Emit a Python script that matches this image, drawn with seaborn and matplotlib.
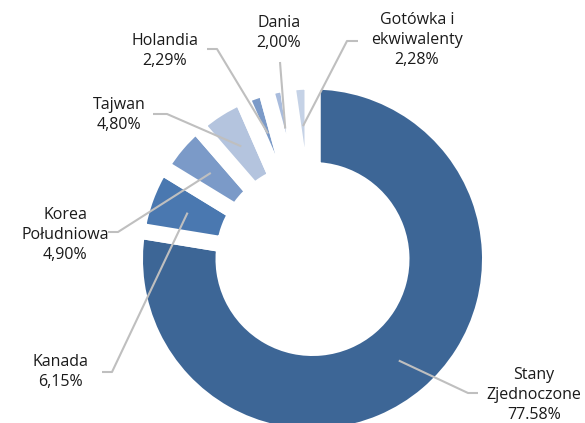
import numpy as np
import seaborn as sns
import matplotlib.pyplot as plt

sns.set_theme(style='white')
plt.rcParams['font.family'] = ['Open Sans', 'DejaVu Sans']

# data
labels = ['Stany\nZjednoczone', 'Kanada', 'Korea\nPołudniowa', 'Tajwan',
          'Holandia', 'Dania', 'Gotówka i\nekwiwalenty']
values = [77.58, 6.15, 4.90, 4.80, 2.29, 2.00, 2.28]
value_text = ['77.58%', '6,15%', '4,90%', '4,80%', '2,29%', '2,00%', '2,28%']
colors = ['#3D6696', '#4A78B0', '#7B9AC8', '#B4C4DE', '#7B9AC8', '#A9BCDD', '#C5D2E6']

# label text centres, leader elbow and leader end (pixel layout, y from top)
text_pos = [(534, 395), (60, 372), (65, 235), (119, 115), (165, 51), (279, 33), (417, 40)]
elbow_pos = [(468, 393), (112, 372), (118, 232), (167, 114), (217, 49), None, (347, 41)]
end_pos = [(478, 393), (102, 372), (108, 232), (153, 114), (207, 49), (280, 62), (358, 41)]

W, H = 585, 423
fig = plt.figure(figsize=(W / 100, H / 100), dpi=100)
ax = fig.add_axes([0, 0, 1, 1])

cx, cy = 312.5, H - 259
gap = 8          # white gap on each side of a segment, px
r_out, r_in = 169.5 + gap, 97 - gap

wedges, _ = ax.pie(values, colors=colors, startangle=90, counterclock=False,
                   radius=r_out, center=(cx, cy),
                   wedgeprops=dict(width=r_out - r_in, edgecolor='white',
                                   linewidth=2 * gap * 0.72))

ax.set_xlim(0, W)
ax.set_ylim(0, H)
ax.set_aspect('equal')
ax.axis('off')

r_mid = (169.5 + 97) / 2
for w, lab, vt, tp, ep, en in zip(wedges, labels, value_text, text_pos, elbow_pos, end_pos):
    ang = np.deg2rad((w.theta1 + w.theta2) / 2)
    ax_, ay_ = cx + r_mid * np.cos(ang), cy + r_mid * np.sin(ang)
    pts = [(ax_, ay_)]
    if ep is not None:
        pts.append((ep[0], H - ep[1]))
    pts.append((en[0], H - en[1]))
    xs, ys = zip(*pts)
    ax.plot(xs, ys, color='#BFBFBF', lw=1.5, zorder=5, solid_capstyle='butt')
    ax.text(tp[0], H - tp[1], f"{lab}\n{vt}", ha='center', va='center', fontsize=11.5,
            color='#1A1A1A', linespacing=1.35, zorder=6)

fig.savefig('out.png', dpi=100)
